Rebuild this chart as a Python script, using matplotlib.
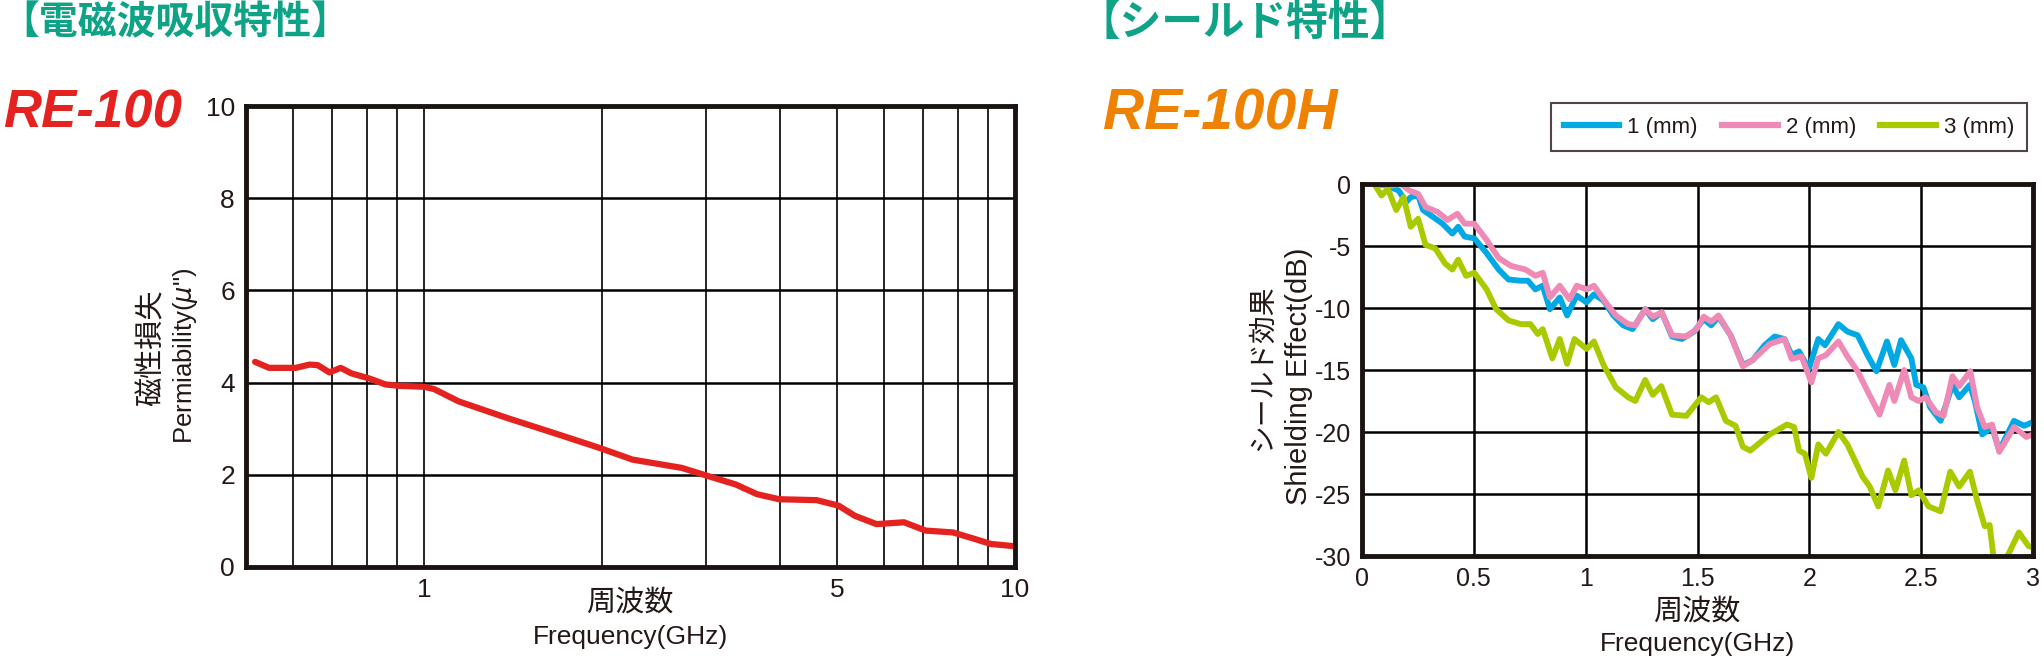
# Electromagnetic absorption / shield characteristics of RE-100 and RE-100H
import matplotlib
matplotlib.use('Agg')
import matplotlib.pyplot as plt
from matplotlib import font_manager
from matplotlib.lines import Line2D

installed = {f.name for f in font_manager.fontManager.ttflist}
NARROW = 'Liberation Sans Narrow' if 'Liberation Sans Narrow' in installed else 'Liberation Sans'
SANS = 'Liberation Sans'
JP = 'Noto Sans CJK JP'
plt.rcParams['font.family'] = [SANS, JP, 'DejaVu Sans']

# --- RE-100 : permiability loss vs frequency (GHz, log scale)
perm_freq = [0.518, 0.547, 0.607, 0.640, 0.661, 0.692, 0.723, 0.754, 0.808, 0.861,
             0.908, 1.0, 1.04, 1.146, 1.385, 1.712, 1.985, 2.253, 2.73, 3.03,
             3.37, 3.66, 3.99, 4.62, 5.03, 5.36, 5.83, 6.49, 7.06, 7.85,
             8.54, 9.10, 10.0]
perm_mu = [4.45, 4.32, 4.32, 4.39, 4.38, 4.22, 4.32, 4.20, 4.09, 3.96,
           3.93, 3.91, 3.86, 3.59, 3.23, 2.85, 2.58, 2.33, 2.15, 1.97,
           1.79, 1.58, 1.47, 1.45, 1.33, 1.11, 0.93, 0.97, 0.79, 0.75,
           0.61, 0.50, 0.45]
perm_xticks = [1, 5, 10]
perm_xgrid = [0.6, 0.7, 0.8, 0.9, 1, 2, 3, 4, 5, 6, 7, 8, 9, 10]
perm_yticks = [0, 2, 4, 6, 8, 10]

# --- RE-100H : shielding effect vs frequency (GHz)
t1_freq = [0.066, 0.109, 0.164, 0.197, 0.218, 0.251, 0.273, 0.317, 0.36, 0.404,
           0.43, 0.459, 0.502, 0.557, 0.611, 0.655, 0.71, 0.742, 0.775, 0.808,
           0.84, 0.884, 0.917, 0.96, 1.004, 1.037, 1.08, 1.124, 1.168, 1.21,
           1.266, 1.3, 1.34, 1.386, 1.43, 1.485, 1.528, 1.561, 1.594, 1.648,
           1.703, 1.747, 1.80, 1.845, 1.889, 1.921, 1.954, 1.998, 2.04, 2.07,
           2.13, 2.17, 2.216, 2.26, 2.30, 2.347, 2.38, 2.41, 2.456, 2.478,
           2.51, 2.54, 2.587, 2.64, 2.67, 2.718, 2.74, 2.773, 2.817, 2.849,
           2.915, 2.96, 3.0]
t1_db = [0, -0.13, -0.53, -1.46, -1.06, -0.93, -2.1, -2.65, -3.2, -4.0,
         -3.45, -4.24, -4.38, -5.57, -6.9, -7.7, -7.8, -7.8, -8.5, -8.2,
         -10.1, -9.15, -10.6, -9.0, -9.55, -8.9, -9.4, -10.6, -11.4, -11.7,
         -10.1, -10.9, -10.35, -12.3, -12.5, -11.9, -10.9, -11.4, -10.7, -12.2,
         -14.6, -14.2, -13.0, -12.3, -12.5, -13.8, -13.5, -14.9, -12.5, -13.0,
         -11.3, -11.9, -12.2, -13.8, -15.1, -12.7, -14.6, -12.6, -14.06, -16.2,
         -16.4, -18.0, -19.1, -16.2, -17.2, -16.2, -17.5, -20.2, -19.6, -21.5,
         -19.1, -19.5, -19.2]

t2_freq = [0.076, 0.131, 0.175, 0.212, 0.251, 0.284, 0.338, 0.382, 0.426, 0.459,
           0.502, 0.557, 0.611, 0.666, 0.731, 0.775, 0.808, 0.84, 0.884, 0.928,
           0.96, 1.004, 1.037, 1.09, 1.135, 1.19, 1.222, 1.266, 1.30, 1.34,
           1.386, 1.45, 1.496, 1.528, 1.561, 1.594, 1.648, 1.703, 1.747, 1.823,
           1.889, 1.921, 1.965, 2.009, 2.04, 2.074, 2.13, 2.17, 2.216, 2.26,
           2.314, 2.358, 2.38, 2.424, 2.456, 2.489, 2.52, 2.566, 2.6, 2.64,
           2.67, 2.72, 2.75, 2.784, 2.817, 2.849, 2.915, 2.97, 3.0]
t2_db = [0, -0.13, 0, -0.53, -0.8, -1.86, -2.25, -2.9, -2.4, -3.2,
         -3.2, -4.5, -5.97, -6.6, -6.9, -7.4, -7.16, -9.15, -8.2, -9.3,
         -8.2, -8.5, -8.2, -9.55, -10.6, -11.3, -11.4, -10.1, -10.7, -10.35,
         -12.2, -12.3, -11.7, -10.7, -11.1, -10.6, -12.2, -14.7, -14.2, -12.9,
         -12.5, -14.1, -13.9, -16.0, -14.06, -13.8, -12.7, -13.9, -15.1, -16.7,
         -18.6, -16.2, -17.5, -15.0, -17.2, -17.5, -17.2, -18.4, -18.7, -15.5,
         -16.3, -15.1, -18.0, -19.6, -19.4, -21.6, -19.6, -20.4, -20.2]

t3_freq = [0.055, 0.087, 0.116, 0.153, 0.186, 0.218, 0.251, 0.284, 0.328, 0.371,
           0.404, 0.43, 0.465, 0.502, 0.557, 0.60, 0.655, 0.71, 0.753, 0.786,
           0.808, 0.851, 0.884, 0.917, 0.95, 1.004, 1.037, 1.08, 1.135, 1.19,
           1.222, 1.266, 1.30, 1.338, 1.386, 1.45, 1.517, 1.55, 1.583, 1.627,
           1.67, 1.703, 1.736, 1.823, 1.90, 1.932, 1.954, 1.98, 2.009, 2.04,
           2.074, 2.13, 2.17, 2.238, 2.27, 2.308, 2.352, 2.385, 2.424, 2.456,
           2.489, 2.533, 2.587, 2.63, 2.67, 2.718, 2.75, 2.784, 2.806, 2.827,
           2.87, 2.937, 2.98, 3.0]
t3_db = [0, -0.93, -0.4, -2.1, -1.06, -3.45, -2.8, -4.9, -5.2, -6.4,
         -6.9, -6.1, -7.4, -7.16, -8.5, -10.1, -11.0, -11.3, -11.3, -12.1,
         -11.7, -14.06, -12.5, -14.5, -12.5, -13.3, -12.7, -14.6, -16.4, -17.2,
         -17.5, -15.8, -17.0, -16.3, -18.6, -18.7, -17.2, -17.6, -17.2, -19.1,
         -19.5, -21.2, -21.5, -20.2, -19.4, -19.6, -21.5, -21.75, -23.7, -21.0,
         -21.75, -20.0, -21.0, -23.6, -24.4, -26.0, -23.1, -24.7, -22.3, -25.1,
         -24.7, -26.0, -26.4, -23.2, -24.4, -23.2, -25.5, -27.6, -27.5, -30.6,
         -30.6, -28.1, -29.2, -29.3]

shield_labels = ['1 (mm)', '2 (mm)', '3 (mm)']
shield_colors = ['#00a9e3', '#ee8ab5', '#aaca00']
shield_xticks = [0, 0.5, 1, 1.5, 2, 2.5, 3]
shield_xticklabels = ['0', '0.5', '1', '1.5', '2', '2.5', '3']
shield_yticks = [0, -5, -10, -15, -20, -25, -30]

TEAL = '#0ea386'
W, H = 2044, 660


def fx(px):
    return px / W


def fy(py):
    return 1 - py / H


def frame(ax, lw=3.5):
    for s in ax.spines.values():
        s.set_linewidth(lw)
        s.set_color('#1a1311')
        s.set_zorder(5)
    ax.tick_params(which='both', length=0, pad=8, colors='#231815')


fig = plt.figure(figsize=(W / 100, H / 100), dpi=100)
fig.patch.set_facecolor('white')

# ---------------- left chart
ax1 = fig.add_axes([fx(246), fy(567), fx(1015 - 246), (567 - 106) / H])
ax1.plot(perm_freq, perm_mu, color='#e42320', lw=4.5, solid_joinstyle='round',
         solid_capstyle='round', zorder=3)
ax1.set_xscale('log')
ax1.set_xlim(0.5, 10)
ax1.set_ylim(0, 10)
ax1.set_xticks(perm_xticks)
ax1.set_xticklabels([str(v) for v in perm_xticks])
ax1.set_xticks(perm_xgrid, minor=True)
ax1.set_xticklabels([], minor=True)
ax1.set_yticks(perm_yticks)
ax1.set_yticklabels([str(v) for v in perm_yticks])
ax1.grid(True, which='both', axis='x', color='black', lw=1.2)
ax1.grid(True, which='major', axis='y', color='black', lw=1.8)
frame(ax1)
for lab in ax1.get_xticklabels() + ax1.get_yticklabels():
    lab.set_fontfamily(NARROW)
    lab.set_fontsize(19)

# ---------------- right chart
ax2 = fig.add_axes([fx(1362), fy(556), fx(2033 - 1362), (556 - 184) / H])
for xs, ys, c, lab in zip([t1_freq, t2_freq, t3_freq], [t1_db, t2_db, t3_db],
                          shield_colors, shield_labels):
    ax2.plot(xs, ys, color=c, lw=4.2, label=lab, solid_joinstyle='round',
             solid_capstyle='round', zorder=3)
ax2.set_xlim(0, 3)
ax2.set_ylim(-30, 0)
ax2.set_xticks(shield_xticks)
ax2.set_xticklabels(shield_xticklabels)
ax2.set_yticks(shield_yticks)
ax2.set_yticklabels([str(v) for v in shield_yticks])
ax2.grid(True, color='black', lw=1.8)
frame(ax2)
for lab in ax2.get_xticklabels() + ax2.get_yticklabels():
    lab.set_fontfamily(NARROW)
    lab.set_fontsize(18)

handles = [Line2D([], [], color=c, lw=4.5) for c in shield_colors]
leg = fig.legend(handles, shield_labels, loc='center',
                 bbox_to_anchor=(fx(1789), fy(127)), ncol=3, frameon=True,
                 fancybox=False, edgecolor='#231815', handlelength=2.5,
                 handletextpad=0.35, columnspacing=1.1, borderpad=0.6,
                 prop={'family': SANS, 'size': 16})
leg.get_frame().set_linewidth(1.5)
for t in leg.get_texts():
    t.set_color('#231815')

# ---------------- texts
fig.text(0, fy(23), '【電磁波吸収特性】', family=JP, fontweight='bold',
         fontsize=28, color=TEAL, va='center', ha='left')
fig.text(fx(1078), fy(23), '【シールド特性】', family=JP, fontweight='bold',
         fontsize=30, color=TEAL, va='center', ha='left')
fig.text(fx(3), fy(113), 'RE-100', family=SANS, fontweight='bold', style='italic',
         fontsize=38, color='#e42320', va='center', ha='left')
fig.text(fx(1103), fy(114), 'RE-100H', family=SANS, fontweight='bold',
         style='italic', fontsize=41, color='#ef8200', va='center', ha='left')

ink = '#231815'
fig.text(fx(152), fy(348), '磁性損失', family=JP, fontsize=21, rotation=90,
         color=ink, va='center', ha='center')
fig.text(fx(186), fy(356), 'Permiability($\\mu$")', family=SANS, fontsize=18.5,
         rotation=90, color=ink, va='center', ha='center')
fig.text(fx(630), fy(603), '周波数', family=JP, fontsize=21, color=ink,
         va='center', ha='center')
fig.text(fx(630), fy(637), 'Frequency(GHz)', family=NARROW, fontsize=19,
         color=ink, va='center', ha='center')

fig.text(fx(1262), fy(368), 'シールド効果', family=JP, fontsize=20, rotation=90,
         color=ink, va='center', ha='center')
fig.text(fx(1299), fy(376), 'Shielding Effect(dB)', family=SANS, fontsize=21,
         rotation=90, color=ink, va='center', ha='center')
fig.text(fx(1697), fy(612), '周波数', family=JP, fontsize=21, color=ink,
         va='center', ha='center')
fig.text(fx(1697), fy(644), 'Frequency(GHz)', family=NARROW, fontsize=19,
         color=ink, va='center', ha='center')

fig.savefig('out.png', dpi=100, facecolor='white')
